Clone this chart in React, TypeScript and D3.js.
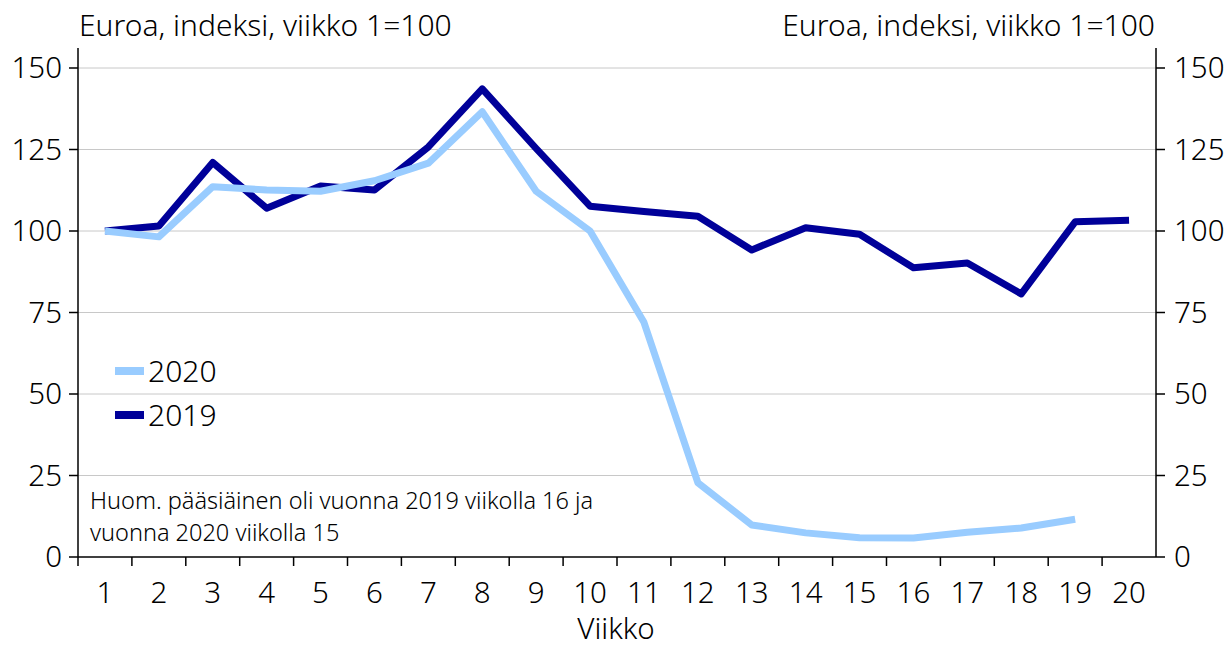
import React from 'react';
import * as d3 from 'd3';

const weeks = ['1','2','3','4','5','6','7','8','9','10','11','12','13','14','15','16','17','18','19','20'];
const values2019 = [100, 101.5, 121, 107, 113.8, 112.6, 125.8, 143.6, 125.3, 107.6, 106, 104.5, 94.2, 101, 99, 88.7, 90.2, 80.7, 102.8, 103.3];
const values2020 = [100, 98.2, 113.6, 112.6, 112.2, 115.4, 120.8, 136.6, 112.2, 100, 72, 22.8, 9.8, 7.4, 5.9, 5.8, 7.6, 8.9, 11.6];
const yTicks = [0, 25, 50, 75, 100, 125, 150];

const unitLabel = 'Euroa, indeksi, viikko 1=100';
const noteLines = ['Huom. pääsiäinen oli vuonna 2019 viikolla 16 ja', 'vuonna 2020 viikolla 15'];

const light = '#99ccff';
const dark = '#000099';

const App = () => {
  const width = 1230, height = 646;
  const margin = {top: 48, right: 74, bottom: 89, left: 78};
  const innerW = width - margin.left - margin.right;
  const innerH = height - margin.top - margin.bottom;

  const x = d3.scaleBand().domain(weeks).range([0, innerW]);
  const y = d3.scaleLinear().domain([0, 150]).range([innerH, 20]);
  const cx = (i: number) => (x(weeks[i]) as number) + x.bandwidth() / 2;

  const ln = d3.line<number>().x((d, i) => cx(i)).y(d => y(d));

  const font = "'Noto Sans', sans-serif";
  const fw = 300;

  return (
    <svg width={width} height={height} style={{position: 'absolute', left: 0, top: 0}} fontFamily={font} fontWeight={fw}>
      <text x={79} y={36} fontSize={30} fill="#000">{unitLabel}</text>
      <text x={1155} y={36} fontSize={30} fill="#000" textAnchor="end">{unitLabel}</text>
      <g transform={`translate(${margin.left},${margin.top})`}>
        {yTicks.filter(t => t > 0).map(t => (
          <line key={t} x1={0} x2={innerW} y1={y(t)} y2={y(t)} stroke="#c8c8c8" strokeWidth={1} />
        ))}
        {yTicks.map(t => (
          <g key={'l' + t}>
            <line x1={-9} x2={0} y1={y(t)} y2={y(t)} stroke="#000" strokeWidth={1.5} />
            <text x={-16} y={y(t)} dy="0.35em" fontSize={29.5} textAnchor="end">{t}</text>
            <line x1={innerW} x2={innerW + 9} y1={y(t)} y2={y(t)} stroke="#000" strokeWidth={1.5} />
            <text x={innerW + 18} y={y(t)} dy="0.35em" fontSize={29.5}>{t}</text>
          </g>
        ))}
        <line x1={0} x2={0} y1={0} y2={innerH} stroke="#000" strokeWidth={1.5} />
        <line x1={innerW} x2={innerW} y1={0} y2={innerH} stroke="#000" strokeWidth={1.5} />
        <line x1={0} x2={innerW} y1={innerH} y2={innerH} stroke="#000" strokeWidth={1.5} />
        {weeks.map((w, i) => (
          <g key={w}>
            {i > 0 && <line x1={x(w)} x2={x(w)} y1={innerH} y2={innerH + 9} stroke="#000" strokeWidth={1.5} />}
            <text x={cx(i)} y={innerH + 46} fontSize={29.5} textAnchor="middle">{w}</text>
          </g>
        ))}
        <line x1={0} x2={0} y1={innerH} y2={innerH + 9} stroke="#000" strokeWidth={1.5} />
        <path d={ln(values2019) || ''} fill="none" stroke={dark} strokeWidth={7} strokeLinejoin="round" />
        <path d={ln(values2020) || ''} fill="none" stroke={light} strokeWidth={7} strokeLinejoin="round" />
        <text x={538} y={innerH + 82} fontSize={29.5} textAnchor="middle">Viikko</text>
        {noteLines.map((s, i) => (
          <text key={i} x={12} y={461 + i * 32} fontSize={23.5}>{s}</text>
        ))}
        <line x1={37} x2={66} y1={323} y2={323} stroke={light} strokeWidth={8} />
        <text x={70} y={323} dy="0.35em" fontSize={30}>2020</text>
        <line x1={37} x2={66} y1={367} y2={367} stroke={dark} strokeWidth={8} />
        <text x={70} y={367} dy="0.35em" fontSize={30}>2019</text>
      </g>
    </svg>
  );
};

export default App;
